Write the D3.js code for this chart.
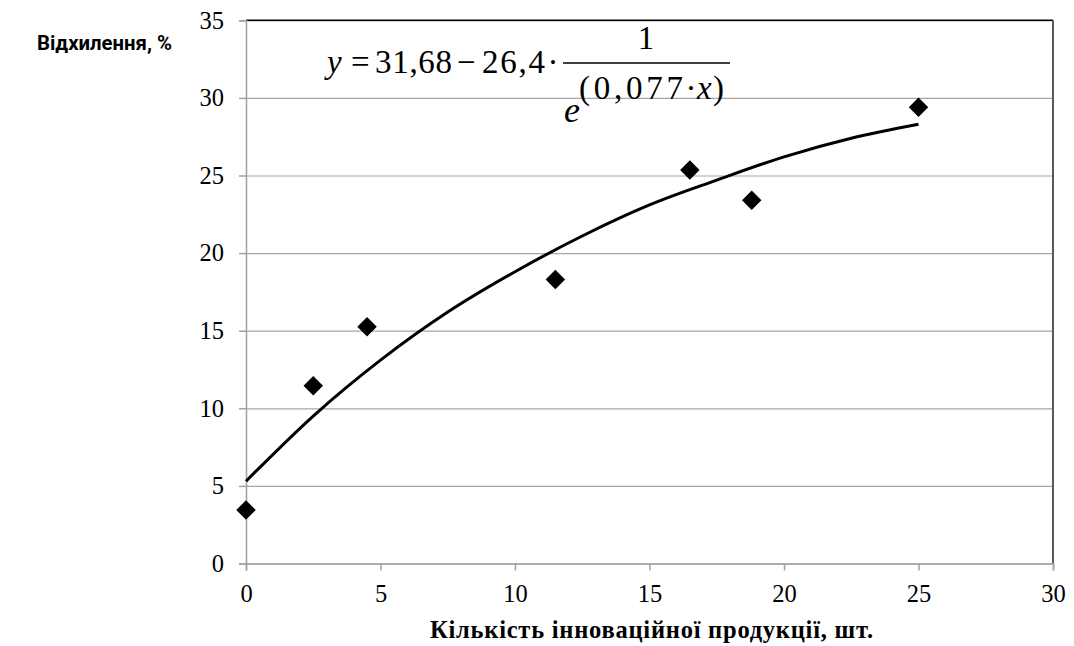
<!DOCTYPE html>
<html>
<head>
<meta charset="utf-8">
<script src="https://cdn.jsdelivr.net/npm/d3@7"></script>
<style>
  body { margin: 0; background: #fff; }
  svg { display: block; }
</style>
</head>
<body>
<div id="chart"></div>
<script>
// observed points
var pointX = [0, 2.5, 4.5, 11.5, 16.5, 18.8, 25];
var pointY = [3.45, 11.45, 15.25, 18.3, 25.35, 23.4, 29.4];

// trend curve
var trendX = [0, 2.5, 5, 7.5, 10, 12.5, 15, 17.5, 20, 22.5, 25];
var trendY = [5.3, 9.5, 13.1, 16.2, 18.8, 21.1, 23.1, 24.7, 26.2, 27.4, 28.3];

var xTicks = [0, 5, 10, 15, 20, 25, 30];
var yTicks = [0, 5, 10, 15, 20, 25, 30, 35];

var yTitle = "Відхилення, %";
var xTitle = "Кількість інноваційної продукції, шт.";

var svgWidth = 1074, svgHeight = 646;
var margin = {top: 20.3, right: 21, bottom: 82.5, left: 246};
var width = svgWidth - margin.left - margin.right;
var height = svgHeight - margin.top - margin.bottom;

var svg = d3.select("#chart").append("svg")
    .attr("width", svgWidth)
    .attr("height", svgHeight);

var g = svg.append("g")
    .attr("transform", "translate(" + margin.left + "," + margin.top + ")");

var x = d3.scaleLinear().domain([0, 30]).range([0, width]);
var y = d3.scaleLinear().domain([0, 35]).range([height, 0]);

// horizontal gridlines
g.append("g")
    .attr("class", "grid")
    .call(d3.axisLeft(y).tickValues(yTicks).tickSize(-width).tickFormat(""))
    .call(function(s) { s.select(".domain").remove(); })
    .selectAll("line")
    .attr("stroke", "#a6a6a6")
    .attr("stroke-width", 1.2);

// plot border top / right
g.append("line")
    .attr("x1", 0).attr("x2", width)
    .attr("y1", 0).attr("y2", 0)
    .attr("stroke", "#000").attr("stroke-width", 1.5);
g.append("line")
    .attr("x1", width).attr("x2", width)
    .attr("y1", 0).attr("y2", height)
    .attr("stroke", "#5a5a5a").attr("stroke-width", 2);

var xAxis = g.append("g")
    .attr("transform", "translate(0," + height + ")")
    .call(d3.axisBottom(x).tickValues(xTicks).tickSize(7).tickPadding(14));

var yAxis = g.append("g")
    .call(d3.axisLeft(y).tickValues(yTicks).tickSize(7).tickPadding(15));

[xAxis, yAxis].forEach(function(a) {
    a.attr("font-family", "Liberation Serif").attr("font-size", 24.5);
    a.selectAll(".domain").attr("stroke", "#a0a0a0").attr("stroke-width", 1.5);
    a.selectAll(".tick line").attr("stroke", "#a0a0a0").attr("stroke-width", 1.5);
    a.selectAll("text").attr("fill", "#000");
});

// trend line
var line = d3.line()
    .x(function(d, i) { return x(trendX[i]); })
    .y(function(d, i) { return y(trendY[i]); })
    .curve(d3.curveMonotoneX);

g.append("path")
    .datum(trendY)
    .attr("d", line)
    .attr("fill", "none")
    .attr("stroke", "#000")
    .attr("stroke-width", 3);

// diamonds
g.selectAll(".pt")
    .data(pointY)
    .enter().append("path")
    .attr("class", "pt")
    .attr("d", d3.symbol().type(d3.symbolSquare).size(190))
    .attr("transform", function(d, i) {
        return "translate(" + x(pointX[i]) + "," + y(d) + ") rotate(45)";
    })
    .attr("fill", "#000");

// axis titles
svg.append("text")
    .attr("x", 37).attr("y", 50)
    .attr("font-family", "Roboto")
    .attr("font-weight", "bold")
    .attr("font-size", 21)
    .attr("textLength", 135)
    .attr("lengthAdjust", "spacingAndGlyphs")
    .text(yTitle);

svg.append("text")
    .attr("x", 430).attr("y", 638)
    .attr("font-family", "Liberation Serif")
    .attr("font-weight", "bold")
    .attr("font-size", 24.5)
    .attr("textLength", 443)
    .text(xTitle);

// equation
var eq = svg.append("g")
    .attr("font-family", "Liberation Serif")
    .attr("font-size", 33)
    .attr("fill", "#000");

function piece(txt, px, py, opts) {
    opts = opts || {};
    var t = eq.append("text").attr("x", px).attr("y", py).text(txt);
    if (opts.italic) t.attr("font-style", "italic");
    if (opts.anchor) t.attr("text-anchor", opts.anchor);
    if (opts.size) t.attr("font-size", opts.size);
    if (opts.len) t.attr("textLength", opts.len);
    return t;
}

piece("y", 327, 73, {italic: true});
piece("=", 351, 73, {len: 21});
piece("31,68", 375, 73, {len: 77});
piece("−", 457, 73, {len: 21});
piece("26,4", 482, 73, {len: 63});
piece("·", 553, 73, {anchor: "middle"});
piece("1", 646, 49, {anchor: "middle"});
eq.append("line")
    .attr("x1", 563).attr("x2", 730)
    .attr("y1", 63).attr("y2", 63)
    .attr("stroke", "#000").attr("stroke-width", 1.5);
piece("e", 564, 122, {italic: true, size: 36});
piece("(0,077", 579, 99, {len: 104, size: 33});
piece("·", 691, 99, {anchor: "middle"});
piece("x", 697, 99, {italic: true});
piece(")", 724, 99, {anchor: "end"});
</script>
</body>
</html>
